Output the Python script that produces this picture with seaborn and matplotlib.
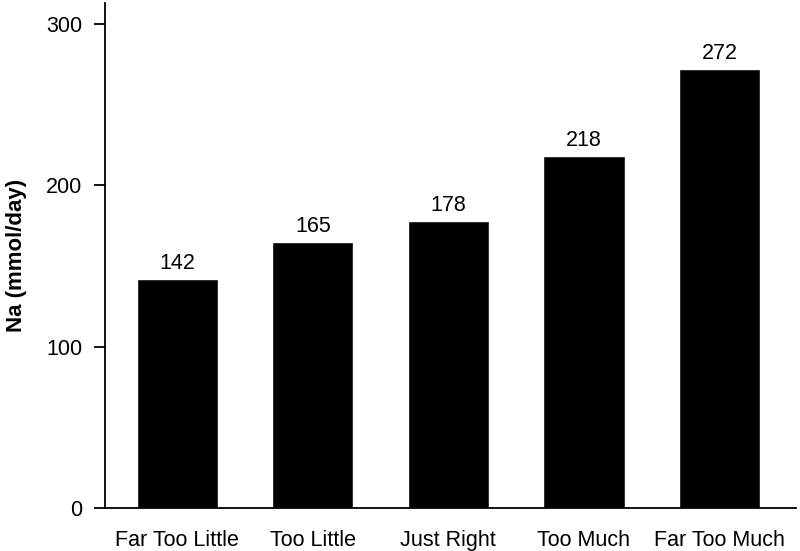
import seaborn as sns
import matplotlib.pyplot as plt
import pandas as pd

# data
categories = ["Far Too Little", "Too Little", "Just Right", "Too Much", "Far Too Much"]
sodium = [142, 165, 178, 218, 272]

sns.set_style("ticks")
plt.rcParams['font.family'] = ['Liberation Sans', 'DejaVu Sans']
plt.rcParams['text.color'] = 'black'
plt.rcParams['axes.labelcolor'] = 'black'
plt.rcParams['xtick.color'] = 'black'
plt.rcParams['ytick.color'] = 'black'
plt.rcParams['axes.edgecolor'] = 'black'

df = pd.DataFrame({"Perception": categories, "Na": sodium})

fig, ax = plt.subplots(figsize=(8, 5.51), dpi=100)
fig.subplots_adjust(left=0.131, right=0.995, bottom=0.078, top=0.995)

sns.barplot(data=df, x="Perception", y="Na", color="black", width=0.6,
            saturation=1, ax=ax)

for i, v in enumerate(sodium):
    ax.text(i, v + 3, str(v), ha="center", va="bottom", fontsize=15.5)

ax.set_ylim(0, 313)
ax.set_xlim(-0.535, 4.565)
ax.set_yticks([0, 100, 200, 300])
ax.set_xlabel("")
ax.set_ylabel("Na (mmol/day)", fontsize=16, fontweight="bold", labelpad=14)
ax.tick_params(axis="y", labelsize=15.5, length=8, width=1.3, pad=8)
ax.tick_params(axis="x", labelsize=15.5, length=0, pad=16)
sns.despine(ax=ax)
for s in ["left", "bottom"]:
    ax.spines[s].set_linewidth(1.3)

plt.savefig("out.png", dpi=100)
